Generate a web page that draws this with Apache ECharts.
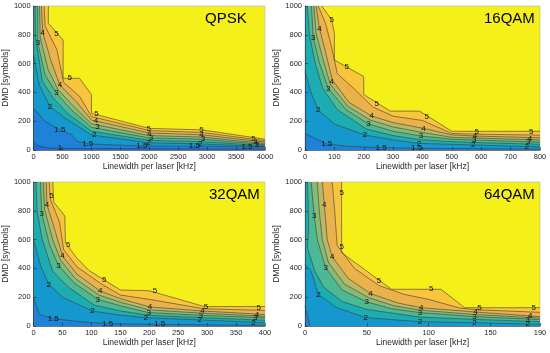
<!DOCTYPE html>
<html><head><meta charset="utf-8">
<script src="https://cdn.jsdelivr.net/npm/echarts@6/dist/echarts.min.js"></script>
<style>html,body{margin:0;padding:0;background:#fff}#c{width:550px;height:353px}</style>
</head><body><div id="c"></div>
<script>
// Contour levels, drawn from highest to lowest
const levels = [5, 4.5, 4, 3.5, 3, 2.5, 2, 1.5, 1];
const panelNames = ['QPSK', '16QAM', '32QAM', '64QAM'];
const xMaxes = [4000, 800, 400, 190];
const yMax = 1000;
const qpskTicks = [0, 500, 1000, 1500, 2000, 2500, 3000, 3500, 4000];
const q16Ticks = [0, 100, 200, 300, 400, 500, 600, 700, 800];
const q32Ticks = [0, 50, 100, 150, 200, 250, 300, 350, 400];
const q64Ticks = [0, 50, 100, 150, 190];
const yTicks = [0, 200, 400, 600, 800, 1000];

// contour curves [linewidth kHz, DMD symbols] per level (order = levels)
const qpskCurves = [
  [[255,1000],[255,880],[511,764],[511,498],[794,498],[1000,385],[1000,255],[2000,150],[2900,140],[4000,75]],
  [[182,1000],[200,860],[400,700],[520,470],[800,370],[1000,232],[2000,135],[2900,122],[4000,65]],
  [[136,1000],[159,815],[300,620],[454,451],[750,330],[1000,208],[2000,118],[2900,106],[4000,55]],
  [[102,1000],[115,780],[250,560],[420,420],[700,300],[1000,182],[2000,100],[2900,90],[4000,45]],
  [[68,1000],[74,741],[200,520],[397,394],[650,280],[1000,157],[2000,84],[2900,75],[4000,37]],
  [[28,1000],[30,800],[150,480],[340,360],[600,250],[1000,130],[2000,67],[2900,58],[4000,30]],
  [[0,660],[100,450],[284,301],[550,220],[1000,105],[2000,50],[2900,42],[4000,24]],
  [[0,290],[200,200],[454,139],[650,110],[750,60],[953,42],[1872,28],[2780,26],[3688,22],[4000,20]],
  [[0,60],[60,30],[300,12],[4000,6]]
];
const q16Curves = [
  [[57,1000],[91,903],[100,810],[100,625],[200,510],[200,385],[290,270],[390,270],[500,130],[800,130]],
  [[45,1000],[70,880],[90,720],[110,530],[170,420],[230,300],[300,235],[400,205],[500,115],[580,110],[800,103]],
  [[38,1000],[49,845],[70,680],[93,486],[150,330],[227,236],[300,190],[403,150],[500,105],[579,97],[800,85]],
  [[30,1000],[38,810],[60,640],[86,457],[145,305],[222,208],[300,160],[400,122],[500,88],[578,83],[800,70]],
  [[22,1000],[28,780],[50,600],[79,428],[140,280],[216,181],[300,130],[395,97],[500,75],[576,69],[800,55]],
  [[8,1000],[15,800],[35,600],[60,430],[110,280],[210,145],[300,100],[390,72],[500,58],[575,52],[800,40]],
  [[0,545],[20,400],[45,278],[100,180],[204,104],[300,70],[388,46],[573,35],[800,22]],
  [[0,115],[74,42],[150,25],[259,16],[380,12],[800,6]],
  []
];
const q32Curves = [
  [[33,1000],[35,860],[54,764],[55,580],[75,470],[96,385],[150,250],[200,245],[295,135],[400,135]],
  [[27,1000],[29,880],[45,720],[52,530],[75,410],[118,290],[150,215],[200,185],[294,120],[400,108]],
  [[22,1000],[23,845],[38,650],[50,486],[75,360],[115,243],[150,190],[201,132],[292,104],[400,80]],
  [[17,1000],[19,810],[33,600],[47,455],[72,330],[113,215],[150,165],[200,112],[290,89],[400,68]],
  [[12,1000],[14,780],[28,560],[43,421],[70,300],[111,185],[150,140],[199,93],[289,74],[400,57]],
  [[4,1000],[6,800],[15,600],[33,380],[60,270],[105,145],[150,105],[197,75],[288,58],[400,40]],
  [[0,600],[12,420],[26,290],[50,200],[102,104],[150,75],[194,58],[287,42],[400,23]],
  [[0,200],[10,80],[34,51],[80,30],[128,16],[218,12],[300,8],[400,5]],
  []
];
const q64Curves = [
  [[29.6,1000],[29.6,509],[70,255],[110,255],[129,127],[190,127]],
  [[22,1000],[24,800],[26,560],[40,400],[60,280],[80,220],[100,185],[125,125],[140,112],[190,95]],
  [[14,1000],[15.6,845],[18,600],[22,481],[35,330],[53,225],[75,160],[94,127],[138,97],[190,65]],
  [[10,1000],[11.5,800],[14,600],[19,440],[32,290],[52,195],[72,140],[93,110],[137,80],[190,55]],
  [[5,1000],[7.5,764],[10,600],[16.7,405],[30,250],[50,167],[70,120],[93,93],[137,65],[190,45]],
  [[2,1000],[3,700],[2,540],[8,380],[15,270],[30,170],[50,115],[93,62],[137,46],[190,30]],
  [[0,430],[5,380],[10.8,220],[25,130],[49,58],[93,30],[137,23],[190,12]],
  [[0,140],[2,80],[4,0]],
  []
];

// contour labels [x, y, text]
const qpskLabels = [[397,810,'5'],[159,815,'4'],[74,741,'3'],[624,498,'5'],[454,451,'4'],[397,394,'3'],[284,301,'2'],[454,139,'1.5'],[454,14,'1'],[1089,250,'5'],[1080,205,'4'],[1106,160,'3'],[1050,108,'2'],[936,42,'1.5'],[1990,150,'5'],[2000,115,'4'],[2030,82,'3'],[1990,52,'2'],[1872,28,'1.5'],[2900,140,'5'],[2900,104,'4'],[2930,76,'3'],[2880,46,'2'],[2780,26,'1.5'],[3800,78,'5'],[3840,52,'4'],[3860,36,'3'],[3688,22,'1.5']];
const q16Labels = [[91,903,'5'],[49,845,'4'],[28,780,'3'],[142,579,'5'],[91,474,'4'],[79,428,'3'],[45,278,'2'],[74,42,'1.5'],[244,324,'5'],[227,236,'4'],[216,181,'3'],[204,104,'2'],[259,16,'1.5'],[414,231,'5'],[403,150,'4'],[395,97,'3'],[388,46,'2'],[380,12,'1.5'],[585,127,'5'],[579,97,'4'],[576,69,'3'],[573,35,'2'],[770,127,'5'],[766,81,'4'],[760,58,'3'],[755,23,'2']];
const q32Labels = [[31,907,'5'],[23,845,'4'],[14,780,'3'],[60,567,'5'],[50,486,'4'],[43,421,'3'],[26,289,'2'],[34,51,'1.5'],[122,324,'5'],[115,243,'4'],[111,185,'3'],[102,104,'2'],[128,16,'1.5'],[210,243,'5'],[201,132,'4'],[199,93,'3'],[194,58,'2'],[218,16,'1.5'],[298,132,'5'],[292,104,'4'],[289,74,'3'],[287,42,'2'],[389,127,'5'],[386,81,'4'],[383,58,'3'],[380,23,'2']];
const q64Labels = [[29.6,926,'5'],[15.6,845,'4'],[7.5,764,'3'],[29.6,551,'5'],[22,481,'4'],[16.7,405,'3'],[10.8,220,'2'],[59.8,313,'5'],[53,225,'4'],[50,167,'3'],[49,58,'2'],[102,255,'5'],[94,127,'4'],[93,93,'3'],[93,30,'2'],[141,127,'5'],[138,97,'4'],[137,65,'3'],[137,23,'2'],[185,127,'5'],[182,69,'4'],[180,45,'3'],[180,12,'2']];

// fill colour of band just below each level (order = levels), and above the top level
const bandColors = ['#f9c53b','#ebb24c','#b9b965','#84bc77','#4bb994','#1cadb3','#1598cd','#1e82d8','#1d6ddc'];
const topColor = '#f6f01a';

const allCurves = [qpskCurves, q16Curves, q32Curves, q64Curves];
const allLabels = [qpskLabels, q16Labels, q32Labels, q64Labels];
const allTicks = [qpskTicks, q16Ticks, q32Ticks, q64Ticks];

const FF = "'Liberation Sans', Arial, Helvetica, sans-serif";
const grids = [
  {left:30, top:6, width:235, height:144},
  {left:305, top:6, width:235, height:144},
  {left:30, top:182, width:235, height:144},
  {left:305, top:182, width:235, height:144}
].map(g => Object.assign(g, {show:true, backgroundColor:topColor, borderColor:'#b5b5b5', borderWidth:0.6}));

function polyFor(curve, xmax) {
  const pts = [[0,0]];
  if (curve[0][1] >= yMax) pts.push([0, yMax]);
  curve.forEach(p => pts.push(p));
  const last = curve[curve.length-1];
  if (last[0] >= xmax) pts.push([xmax, 0]);
  return pts;
}
const plain = v => String(Math.round(v));

const axisCommon = {
  axisLine:{show:true, lineStyle:{color:'#262626', width:0.6}},
  splitLine:{show:false},
  z:10
};
const xAxes = [], yAxes = [], series = [], titles = [];
const titlePos = [[205,11],[484,11],[209,187],[484,187]];
for (let i = 0; i < 4; i++) {
  const xmax = xMaxes[i];
  xAxes.push(Object.assign({}, axisCommon, {
    gridIndex:i, type:'value', min:0, max:xmax,
    name:'Linewidth per laser [kHz]', nameLocation:'middle', nameGap:12,
    nameTextStyle:{fontSize:8.5, color:'#262626', fontFamily:FF},
    axisTick:{show:true, inside:true, length:3, customValues:allTicks[i], lineStyle:{color:'#262626', width:0.6}},
    axisLabel:{customValues:allTicks[i], formatter:plain, fontSize:7.5, color:'#262626', margin:3, fontFamily:FF, showMaxLabel:true}
  }));
  yAxes.push(Object.assign({}, axisCommon, {
    gridIndex:i, type:'value', min:0, max:yMax, interval:200,
    name:'DMD [symbols]', nameLocation:'middle', nameGap:19,
    nameTextStyle:{fontSize:8.5, color:'#262626', fontFamily:FF},
    axisTick:{show:true, inside:true, length:3, customValues:yTicks, lineStyle:{color:'#262626', width:0.6}},
    axisLabel:{customValues:yTicks, formatter:plain, fontSize:7.5, color:'#262626', margin:3, fontFamily:FF}
  }));
  const curves = allCurves[i];
  const idx = curves.map((c, k) => k).filter(k => curves[k].length > 0);
  series.push({
    type:'custom', coordinateSystem:'cartesian2d', xAxisIndex:i, yAxisIndex:i, silent:true, z:2,
    data: idx.map(k => ({value:[0,0], k:k})),
    renderItem: function(params, api) {
      const k = idx[params.dataIndex];
      const pts = polyFor(curves[k], xmax).map(p => api.coord(p));
      return {type:'polygon', z2:k, shape:{points:pts}, style:{fill:bandColors[k], stroke:null}};
    }
  });
  series.push({
    type:'custom', coordinateSystem:'cartesian2d', xAxisIndex:i, yAxisIndex:i, silent:true, z:3,
    data: idx.map(k => ({value:[0,0], k:k})),
    renderItem: function(params, api) {
      const k = idx[params.dataIndex];
      const pts = curves[k].map(p => api.coord(p));
      return {type:'polyline', shape:{points:pts}, style:{stroke:'#3d3d3d', lineWidth:0.6, fill:null}};
    }
  });
  const labels = allLabels[i];
  series.push({
    type:'custom', coordinateSystem:'cartesian2d', xAxisIndex:i, yAxisIndex:i, silent:true, z:4,
    data: labels.map(l => [l[0], l[1]]),
    renderItem: function(params, api) {
      const l = labels[params.dataIndex];
      const p = api.coord([l[0], l[1]]);
      return {type:'text', x:p[0], y:p[1], style:{text:l[2], fontSize:8, fontFamily:FF, fill:'#111', align:'center', verticalAlign:'middle'}};
    }
  });
  titles.push({text:panelNames[i], left:titlePos[i][0], top:titlePos[i][1], padding:0,
    textStyle:{fontSize:15, fontWeight:'normal', color:'#000', fontFamily:FF}});
}

const chart = echarts.init(document.getElementById('c'), null, {renderer:'canvas'});
chart.setOption({
  animation:false,
  backgroundColor:'#ffffff',
  title:titles,
  grid:grids,
  xAxis:xAxes,
  yAxis:yAxes,
  series:series
});
</script>
</body></html>
